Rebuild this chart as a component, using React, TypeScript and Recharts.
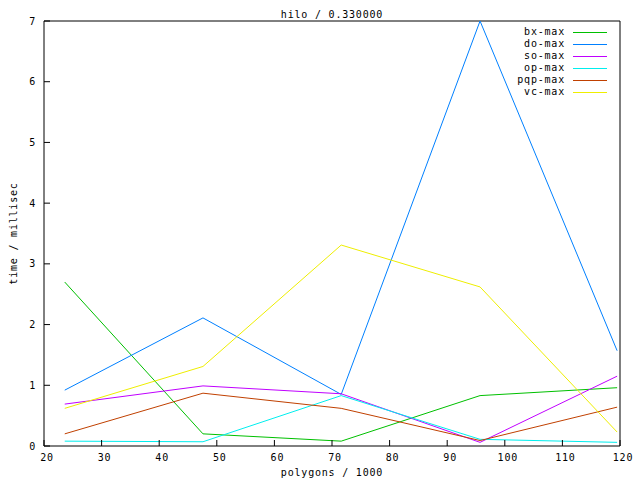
import React from 'react';
import { LineChart, Line, XAxis, YAxis, Legend, ReferenceArea } from 'recharts';

// polygon counts (thousands) and max times per solver
const polygons = [23.6, 47.6, 71.6, 95.7, 119.5];
const bxMax = [2.70, 0.20, 0.08, 0.83, 0.96];
const doMax = [0.92, 2.11, 0.85, 7.0, 1.57];
const soMax = [0.69, 0.99, 0.86, 0.06, 1.15];
const opMax = [0.08, 0.07, 0.83, 0.11, 0.06];
const pqpMax = [0.20, 0.87, 0.62, 0.09, 0.64];
const vcMax = [0.62, 1.31, 3.31, 2.62, 0.23];

const xTicks = [20, 30, 40, 50, 60, 70, 80, 90, 100, 110, 120];
const yTicks = [0, 1, 2, 3, 4, 5, 6, 7];

const series = [
  { key: 'bx-max', values: bxMax, color: '#00c000' },
  { key: 'do-max', values: doMax, color: '#0080ff' },
  { key: 'so-max', values: soMax, color: '#c000ff' },
  { key: 'op-max', values: opMax, color: '#00eeee' },
  { key: 'pqp-max', values: pqpMax, color: '#c04000' },
  { key: 'vc-max', values: vcMax, color: '#eeee00' },
];

const data = polygons.map((x, i) => {
  const row: Record<string, number> = { x };
  series.forEach(s => { row[s.key] = s.values[i]; });
  return row;
});

const FONT = '"DejaVu Sans Mono", monospace';
const textStyle = { fill: '#000', fontSize: 10, letterSpacing: 0.8, fontFamily: FONT };
const TICK = 6;

// gnuplot style: ticks point into the plot on all four sides
const BottomTick = ({ x, y, payload }: any) => {
  const base = y - 15;
  return (
    <g>
      <path d={`M${x},${base}V${base - TICK}`} stroke="#000" />
      <text x={x + 3} y={y} textAnchor="middle" style={textStyle}>{payload.value}</text>
    </g>
  );
};
const LeftTick = ({ x, y, payload }: any) => {
  const base = x + 8;
  return (
    <g>
      <path d={`M${base},${y}H${base + TICK}`} stroke="#000" />
      <text x={x} y={y} textAnchor="end" dominantBaseline="central" style={textStyle}>{payload.value}</text>
    </g>
  );
};
const TopTick = ({ x, y }: any) => <path d={`M${x},${y}V${y + TICK}`} stroke="#000" />;
const RightTick = ({ x, y }: any) => <path d={`M${x},${y}H${x - TICK}`} stroke="#000" />;

const LegendBox = () => (
  <div style={{ fontFamily: FONT, fontSize: 10, letterSpacing: 0.8, lineHeight: '12px', color: '#000' }}>
    {series.map(s => (
      <div key={s.key} style={{ display: 'flex', alignItems: 'center', height: 12 }}>
        <span style={{ width: 100, textAlign: 'right' }}>{s.key}</span>
        <span style={{ marginLeft: 8, width: 34, height: 1, background: s.color }} />
      </div>
    ))}
  </div>
);

export default function App() {
  return (
    <div style={{ position: 'absolute', left: 0, top: 0, background: '#fff' }}>
      <LineChart width={640} height={480} data={data} margin={{ top: 21, right: 20, bottom: 0, left: 0 }}>
        <XAxis
          dataKey="x" type="number" domain={[20, 120]} ticks={xTicks} interval={0}
          height={34} axisLine={false} tickLine={false} tickSize={0} tickMargin={15} tick={BottomTick}
          label={(p: any) => (
            <g>
              <text x={332} y={476} textAnchor="middle" style={textStyle}>polygons / 1000</text>
              <text x={332} y={18} textAnchor="middle" style={textStyle}>hilo / 0.330000</text>
            </g>
          )}
        />
        <XAxis
          xAxisId="top" orientation="top" dataKey="x" type="number" domain={[20, 120]} ticks={xTicks}
          interval={0} height={0} axisLine={false} tickLine={false} tickSize={0} tickMargin={0} tick={TopTick}
        />
        <YAxis
          type="number" domain={[0, 7]} ticks={yTicks} interval={0} width={44}
          axisLine={false} tickLine={false} tickSize={0} tickMargin={8} tick={LeftTick}
          label={(p: any) => (
            <text x={13} y={233.5} transform="rotate(-90 13 233.5)" textAnchor="middle"
              dominantBaseline="central" style={textStyle}>time / millisec</text>
          )}
        />
        <YAxis
          yAxisId="right" orientation="right" type="number" domain={[0, 7]} ticks={yTicks}
          interval={0} width={0} axisLine={false} tickLine={false} tickSize={0} tickMargin={0} tick={RightTick}
        />
        <ReferenceArea x1={20} x2={120} y1={0} y2={7} fill="none" stroke="#000" strokeWidth={1} />
        <Legend
          layout="horizontal" verticalAlign="middle" align="center"
          wrapperStyle={{ top: 26, left: 465, width: 150, height: 72 }}
          content={() => <LegendBox />}
        />
        {series.map(s => (
          <Line
            key={s.key} dataKey={s.key} stroke={s.color} strokeWidth={1} dot={false}
            type="linear" isAnimationActive={false}
          />
        ))}
      </LineChart>
    </div>
  );
}
